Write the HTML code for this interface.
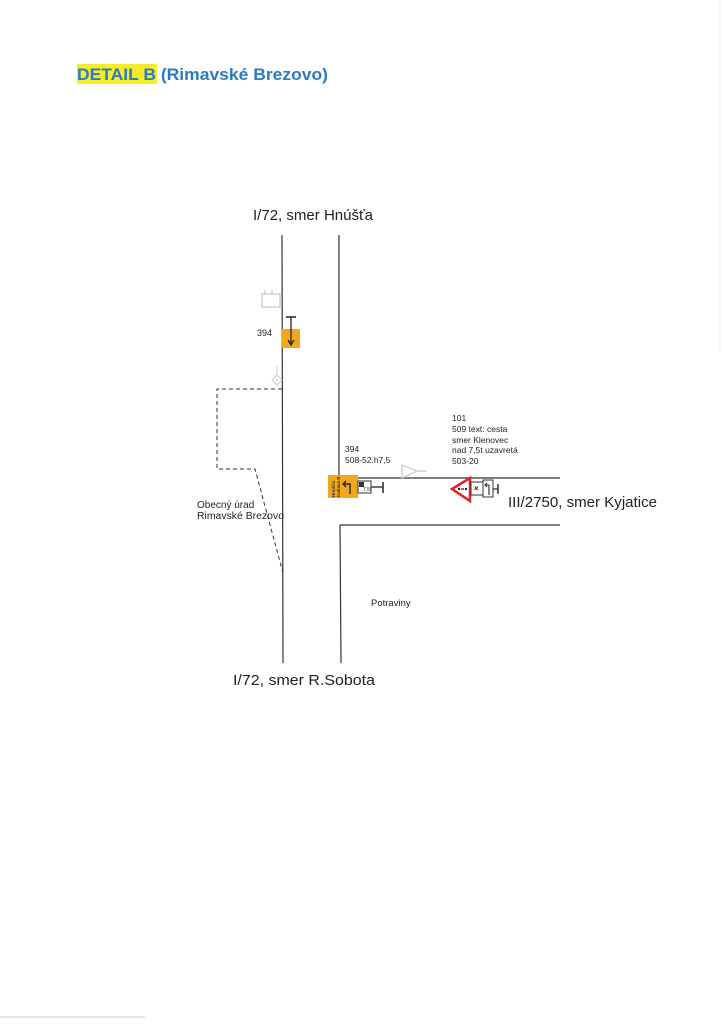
<!DOCTYPE html>
<html>
<head>
<meta charset="utf-8">
<style>
html,body{margin:0;padding:0;background:#fff;}
svg{display:block;}
text{font-family:"Liberation Sans",Arial,sans-serif;}
</style>
</head>
<body>
<svg width="724" height="1024" viewBox="0 0 724 1024" xmlns="http://www.w3.org/2000/svg">
<rect x="0" y="0" width="724" height="1024" fill="#fff"/>
<!-- faint scan edges -->
<line x1="720" y1="0" x2="720" y2="353" stroke="#e8e8e8" stroke-width="1"/>
<line x1="0" y1="1017" x2="145" y2="1017" stroke="#dcdcdc" stroke-width="1.5"/>

<!-- title -->
<rect x="77" y="64" width="80" height="20" fill="#f7ec2a"/>
<text x="77" y="80" font-size="17" font-weight="bold" fill="#2a7cc0" textLength="251" lengthAdjust="spacingAndGlyphs">DETAIL B (Rimavské Brezovo)</text>

<!-- road labels -->
<text x="253" y="220" font-size="15" fill="#222" textLength="120" lengthAdjust="spacingAndGlyphs">I/72, smer Hnúšťa</text>
<text x="233" y="685" font-size="15" fill="#222" textLength="142" lengthAdjust="spacingAndGlyphs">I/72, smer R.Sobota</text>
<text x="508" y="507" font-size="15" fill="#222" textLength="149" lengthAdjust="spacingAndGlyphs">III/2750, smer Kyjatice</text>

<!-- roads -->
<g stroke="#333" stroke-width="1.2" fill="none">
<line x1="282" y1="235" x2="283" y2="663"/>
<line x1="339" y1="235" x2="339" y2="478"/>
<line x1="339" y1="478" x2="560" y2="478"/>
<line x1="340" y1="525" x2="560" y2="525"/>
<line x1="340" y1="525" x2="341" y2="663"/>
</g>

<!-- dashed building outline -->
<g stroke="#333" stroke-width="1" fill="none" stroke-dasharray="4,3">
<polyline points="282,389 217,389 217,469 255,469 283,573"/>
</g>

<!-- Obecny urad -->
<text x="197" y="508" font-size="10" fill="#222">Obecný úrad</text>
<text x="197" y="519" font-size="10" fill="#222" textLength="87" lengthAdjust="spacingAndGlyphs">Rimavské Brezovo</text>

<text x="371" y="606" font-size="9.5" fill="#222">Potraviny</text>

<!-- faint grey box (bus stop) -->
<rect x="262" y="294" width="18" height="13" fill="#fff" stroke="#bbb" stroke-width="1"/>
<line x1="265" y1="290" x2="265" y2="294" stroke="#bbb"/>
<line x1="272" y1="290" x2="272" y2="294" stroke="#bbb"/>

<!-- faint diamond -->
<line x1="277" y1="366" x2="277" y2="376" stroke="#ccc"/>
<polygon points="277,375 282,380 277,385 272,380" fill="#fff" stroke="#ccc"/>
<polygon points="277,378 279,380 277,382 275,380" fill="#ddd"/>

<!-- sign 394 on left road -->
<text x="257" y="336" font-size="9" fill="#222">394</text>
<rect x="282" y="329" width="18" height="19" fill="#f2a81d"/>
<line x1="286" y1="317" x2="296" y2="317" stroke="#222" stroke-width="1.5"/>
<line x1="291" y1="317" x2="291" y2="344" stroke="#222" stroke-width="1.3"/>
<polyline points="288,340 291,345 294,340" fill="none" stroke="#222" stroke-width="1.3"/>

<!-- labels near junction -->
<g font-size="8.5" fill="#222">
<text x="345" y="452">394</text>
<text x="345" y="463">508-52.h7,5</text>
<text x="452" y="421">101</text>
<text x="452" y="432">509 text: cesta</text>
<text x="452" y="443">smer Klenovec</text>
<text x="452" y="453">nad 7,5t uzavretá</text>
<text x="452" y="464">503-20</text>
</g>

<!-- faint yield/triangle symbol -->
<g stroke="#c8c8c8" stroke-width="1.2" fill="none">
<polyline points="402,465 417,471 402,478 402,465"/>
<line x1="417" y1="471" x2="427" y2="471"/>
</g>

<!-- orange direction sign -->
<rect x="328" y="475" width="30" height="23" fill="#f2a81d"/>
<text transform="translate(335,497) rotate(-90)" font-size="4.5" fill="#333" font-weight="bold">Hnúšťa</text>
<text transform="translate(340,497) rotate(-90)" font-size="4.5" fill="#333" font-weight="bold">Kokava R</text>
<path d="M350,494 L350,484 L344,484" fill="none" stroke="#222" stroke-width="1.4"/>
<polyline points="346,481 343,484 346,487" fill="none" stroke="#222" stroke-width="1.3"/>
<rect x="358" y="481" width="13" height="12" fill="#fff" stroke="#333" stroke-width="1"/>
<rect x="359" y="482" width="5" height="5" fill="#333"/>
<text x="363" y="491" font-size="5" fill="#222">7,5t</text>
<line x1="371" y1="487" x2="383" y2="487" stroke="#222" stroke-width="1.3"/>
<line x1="383" y1="482" x2="383" y2="493" stroke="#222" stroke-width="1.5"/>

<!-- red triangle warning sign -->
<polygon points="452,489 470,478 470,501" fill="#fff" stroke="#e0202a" stroke-width="2.5" stroke-linejoin="miter"/>
<circle cx="459" cy="489" r="1.2" fill="#222"/>
<line x1="461" y1="489" x2="464" y2="489" stroke="#222" stroke-width="1.2"/>
<circle cx="466" cy="489" r="1.2" fill="#222"/>
<rect x="471" y="482" width="12" height="13" fill="#fff" stroke="#333" stroke-width="1"/>
<text x="474" y="491" font-size="8" fill="#222" font-weight="bold">×</text>
<rect x="483" y="480" width="10" height="17" fill="#fff" stroke="#333" stroke-width="1"/>
<path d="M489,495 L489,485 L486,485" fill="none" stroke="#222" stroke-width="1.1"/>
<polyline points="487,483 485,485 487,487" fill="none" stroke="#222" stroke-width="1"/>
<line x1="493" y1="489" x2="498" y2="489" stroke="#222" stroke-width="1.2"/>
<line x1="498" y1="484" x2="498" y2="494" stroke="#222" stroke-width="1.4"/>
</svg>
</body>
</html>
